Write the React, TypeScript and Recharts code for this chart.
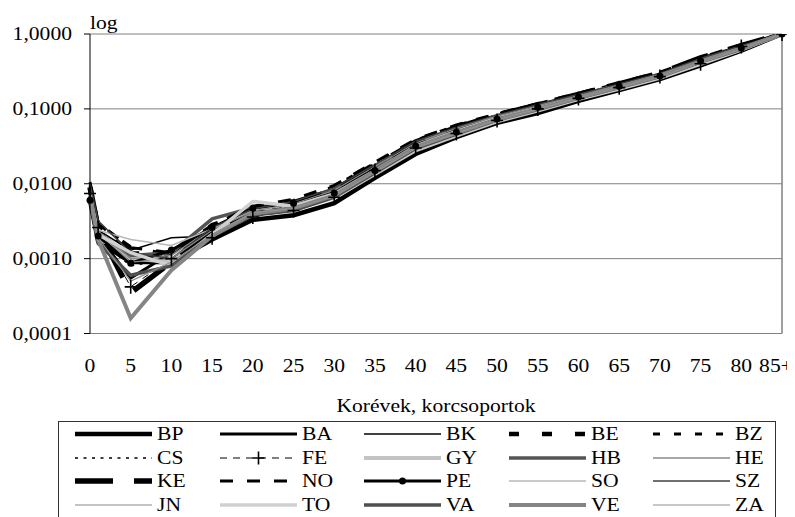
import React from 'react';
import { LineChart, Line, XAxis, YAxis, CartesianGrid, Legend, ReferenceLine } from 'recharts';

const ages = [0, 1, 5, 10, 15, 20, 25, 30, 35, 40, 45, 50, 55, 60, 65, 70, 75, 80, 85];
const xTicks = [0, 5, 10, 15, 20, 25, 30, 35, 40, 45, 50, 55, 60, 65, 70, 75, 80, 85];
const xTickLabels = ['0', '5', '10', '15', '20', '25', '30', '35', '40', '45', '50', '55', '60', '65', '70', '75', '80', '85+'];
const yTicks = [0.0001, 0.001, 0.01, 0.1, 1];
const yTickLabels = ['0,0001', '0,0010', '0,0100', '0,1000', '1,0000'];
const xAxisTitle = 'Korévek, korcsoportok';
const yAxisNote = 'log';

const seriesNames = ['BP', 'BA', 'BK', 'BE', 'BZ', 'CS', 'FE', 'GY', 'HB', 'HE', 'KE', 'NO', 'PE', 'SO', 'SZ', 'JN', 'TO', 'VA', 'VE', 'ZA'];

const BP = [0.0060, 0.0017, 0.0009, 0.0009, 0.0018, 0.0033, 0.0038, 0.0055, 0.0120, 0.0250, 0.0420, 0.0650, 0.0880, 0.1280, 0.1780, 0.2500, 0.3800, 0.6000, 1];
const BA = [0.0075, 0.0020, 0.00055, 0.0012, 0.0025, 0.0040, 0.0048, 0.0070, 0.0150, 0.0320, 0.0500, 0.0760, 0.1050, 0.1450, 0.2000, 0.2800, 0.4300, 0.6500, 1];
const BK = [0.0080, 0.0024, 0.0013, 0.0019, 0.0020, 0.0045, 0.0055, 0.0080, 0.0165, 0.0340, 0.0530, 0.0790, 0.1080, 0.1500, 0.2050, 0.2850, 0.4400, 0.6600, 1];
const BE = [0.0085, 0.0028, 0.0014, 0.0011, 0.0028, 0.0042, 0.0052, 0.0078, 0.0160, 0.0330, 0.0540, 0.0800, 0.1100, 0.1520, 0.2100, 0.2950, 0.4600, 0.6800, 1];
const BZ = [0.0095, 0.0030, 0.0012, 0.0012, 0.0027, 0.0046, 0.0060, 0.0092, 0.0190, 0.0380, 0.0600, 0.0850, 0.1170, 0.1600, 0.2200, 0.3000, 0.4700, 0.6900, 1];
const CS = [0.0065, 0.0018, 0.0008, 0.0010, 0.0022, 0.0040, 0.0046, 0.0068, 0.0145, 0.0310, 0.0490, 0.0740, 0.1020, 0.1420, 0.1980, 0.2750, 0.4200, 0.6400, 1];
const FE = [0.0074, 0.0026, 0.00042, 0.0010, 0.0019, 0.0036, 0.0044, 0.0066, 0.0150, 0.0300, 0.0470, 0.0700, 0.1000, 0.1380, 0.1920, 0.2700, 0.4000, 0.6800, 1];
const GY = [0.0070, 0.0019, 0.0010, 0.0009, 0.0022, 0.0042, 0.0045, 0.0065, 0.0135, 0.0280, 0.0440, 0.0680, 0.0950, 0.1350, 0.1850, 0.2600, 0.4000, 0.6200, 1];
const HB = [0.0080, 0.0022, 0.0011, 0.0012, 0.0034, 0.0048, 0.0055, 0.0085, 0.0170, 0.0350, 0.0550, 0.0810, 0.1100, 0.1520, 0.2080, 0.2900, 0.4500, 0.6700, 1];
const HE = [0.0078, 0.0023, 0.0010, 0.0011, 0.0026, 0.0043, 0.0058, 0.0088, 0.0180, 0.0360, 0.0560, 0.0820, 0.1120, 0.1550, 0.2150, 0.2950, 0.4600, 0.6800, 1];
const KE = [0.0090, 0.0025, 0.00035, 0.0009, 0.0024, 0.0044, 0.0056, 0.0082, 0.0175, 0.0360, 0.0560, 0.0830, 0.1130, 0.1560, 0.2150, 0.3000, 0.4800, 0.7000, 1];
const NO = [0.0105, 0.0030, 0.0014, 0.0012, 0.0028, 0.0050, 0.0062, 0.0095, 0.0195, 0.0390, 0.0610, 0.0860, 0.1180, 0.1620, 0.2250, 0.3100, 0.4800, 0.7200, 1];
const PE = [0.0060, 0.0020, 0.00087, 0.0013, 0.0026, 0.0047, 0.0055, 0.0075, 0.0150, 0.0320, 0.0490, 0.0730, 0.1050, 0.1440, 0.2000, 0.2750, 0.4400, 0.6500, 1];
const SO = [0.0072, 0.0024, 0.0018, 0.0015, 0.0025, 0.0044, 0.0052, 0.0076, 0.0155, 0.0330, 0.0520, 0.0780, 0.1060, 0.1480, 0.2050, 0.2850, 0.4400, 0.6600, 1];
const SZ = [0.0100, 0.0032, 0.0012, 0.0010, 0.0026, 0.0046, 0.0058, 0.0088, 0.0180, 0.0370, 0.0570, 0.0830, 0.1140, 0.1570, 0.2150, 0.2980, 0.4700, 0.7000, 1];
const JN = [0.0082, 0.0022, 0.0009, 0.0010, 0.0024, 0.0043, 0.0054, 0.0082, 0.0170, 0.0350, 0.0550, 0.0800, 0.1100, 0.1500, 0.2080, 0.2900, 0.4500, 0.6700, 1];
const TO = [0.0068, 0.0021, 0.0012, 0.0008, 0.0021, 0.0058, 0.0050, 0.0072, 0.0140, 0.0290, 0.0460, 0.0700, 0.0980, 0.1380, 0.1900, 0.2650, 0.4100, 0.6300, 1];
const VA = [0.0066, 0.0016, 0.0006, 0.0008, 0.0020, 0.0038, 0.0044, 0.0066, 0.0140, 0.0295, 0.0460, 0.0710, 0.0980, 0.1390, 0.1920, 0.2700, 0.4200, 0.6300, 1];
const VE = [0.0070, 0.0018, 0.00016, 0.0007, 0.0020, 0.0040, 0.0047, 0.0070, 0.0148, 0.0310, 0.0480, 0.0720, 0.1000, 0.1400, 0.1950, 0.2750, 0.4300, 0.6400, 1];
const ZA = [0.0064, 0.0019, 0.0005, 0.0009, 0.0021, 0.0041, 0.0047, 0.0069, 0.0142, 0.0300, 0.0470, 0.0720, 0.0990, 0.1400, 0.1950, 0.2700, 0.4150, 0.6300, 1];

const seriesValues: Record<string, number[]> = { BP, BA, BK, BE, BZ, CS, FE, GY, HB, HE, KE, NO, PE, SO, SZ, JN, TO, VA, VE, ZA };

type Style = { stroke: string; width: number; dash?: string; marker?: 'plus' | 'dot' };
const seriesStyles: Record<string, Style> = {
  BP: { stroke: '#000000', width: 4.5 },
  BA: { stroke: '#000000', width: 3 },
  BK: { stroke: '#000000', width: 1.5 },
  BE: { stroke: '#000000', width: 4.5, dash: '10 23' },
  BZ: { stroke: '#000000', width: 3, dash: '7 14' },
  CS: { stroke: '#000000', width: 1.5, dash: '3 5.5' },
  FE: { stroke: '#000000', width: 1, dash: '7 6', marker: 'plus' },
  GY: { stroke: '#c4c4c4', width: 4 },
  HB: { stroke: '#555555', width: 3.5 },
  HE: { stroke: '#8a8a8a', width: 1.5 },
  KE: { stroke: '#000000', width: 5.5, dash: '38 21' },
  NO: { stroke: '#000000', width: 3, dash: '13 14' },
  PE: { stroke: '#000000', width: 3, marker: 'dot' },
  SO: { stroke: '#b8b8b8', width: 1.5 },
  SZ: { stroke: '#404040', width: 1.5 },
  JN: { stroke: '#8a8a8a', width: 1.2 },
  TO: { stroke: '#d0d0d0', width: 3.5 },
  VA: { stroke: '#505050', width: 3.5 },
  VE: { stroke: '#858585', width: 4 },
  ZA: { stroke: '#909090', width: 1.2 },
};

const data = ages.map((age, i) => {
  const row: Record<string, number> = { age };
  seriesNames.forEach((n) => {
    row[n] = seriesValues[n][i];
  });
  return row;
});

const FONT = 'Liberation Serif, Tinos, DejaVu Serif, Times New Roman, serif';
const STRETCH = 1.2;

const XTick = (props: any) => {
  const { x, y, payload } = props;
  const idx = xTicks.indexOf(payload.value);
  const isLast = idx === xTicks.length - 1;
  return (
    <text
      transform={`translate(${isLast ? x - 6 : x},${y}) scale(${STRETCH},1)`}
      textAnchor="middle"
      dy={31}
      style={{ fontFamily: FONT, fontSize: 18 }}
      fill="#000"
    >
      {idx >= 0 ? xTickLabels[idx] : ''}
    </text>
  );
};

const YTick = (props: any) => {
  const { x, y, payload } = props;
  const idx = yTicks.findIndex((t) => Math.abs(t - payload.value) < t * 1e-6);
  return (
    <text transform={`translate(${x},${y}) scale(${STRETCH},1)`} textAnchor="end" dy={6} style={{ fontFamily: FONT, fontSize: 18 }} fill="#000">
      {idx >= 0 ? yTickLabels[idx] : ''}
    </text>
  );
};

const XTitle = (props: any) => {
  const vb = props.viewBox || {};
  return (
    <text
      transform={`translate(${vb.x + vb.width / 2},${vb.y + 78.5}) scale(${STRETCH},1)`}
      textAnchor="middle"
      style={{ fontFamily: FONT, fontSize: 18 }}
      fill="#000"
    >
      {xAxisTitle}
    </text>
  );
};

const YNote = (props: any) => {
  const vb = props.viewBox || {};
  return (
    <text
      transform={`translate(${vb.x + vb.width},${vb.y - 5}) scale(${STRETCH},1)`}
      textAnchor="start"
      style={{ fontFamily: FONT, fontSize: 18 }}
      fill="#000"
    >
      {yAxisNote}
    </text>
  );
};

const PlusDot = (props: any) => {
  const { cx, cy, index } = props;
  if (cx == null || cy == null) return <g key={index} />;
  return <path key={index} d={`M${cx - 6},${cy}h12M${cx},${cy - 7}v14`} stroke="#000" strokeWidth={1.6} fill="none" />;
};

const LegendSample = ({ s }: { s: Style }) => (
  <svg width={78} height={14} style={{ display: 'block' }}>
    <line x1={0} y1={7} x2={77} y2={7} stroke={s.stroke} strokeWidth={s.width} strokeDasharray={s.dash} />
    {s.marker === 'dot' && <circle cx={38.5} cy={7} r={3.5} fill="#000" />}
    {s.marker === 'plus' && <path d="M32.5,7h12M38.5,0.5v13" stroke="#000" strokeWidth={1.6} />}
  </svg>
);

const LegendBox = () => (
  <div
    style={{
      boxSizing: 'border-box',
      width: 718,
      height: 104,
      border: '1px solid #333',
      background: '#fff',
      position: 'relative',
      fontFamily: FONT,
      color: '#000',
    }}
  >
    {seriesNames.map((n, i) => {
      const col = i % 5;
      const row = Math.floor(i / 5);
      return (
        <div
          key={n}
          style={{
            position: 'absolute',
            left: 16 + col * 144.5,
            top: 12 + row * 23.5 - 10,
            height: 20,
            display: 'flex',
            alignItems: 'center',
          }}
        >
          <LegendSample s={seriesStyles[n]} />
          <span
            style={{
              marginLeft: 4,
              fontSize: 18,
              lineHeight: '20px',
              fontFamily: FONT,
              display: 'inline-block',
              transform: `scaleX(${STRETCH})`,
              transformOrigin: 'left center',
              whiteSpace: 'nowrap',
            }}
          >
            {n}
          </span>
        </div>
      );
    })}
  </div>
);

export default function App() {
  return (
    <div style={{ width: 787, height: 509, overflow: 'hidden', background: '#fff', fontFamily: FONT }}>
      <LineChart width={787} height={509} data={data} margin={{ top: 26, right: 13, left: 0, bottom: 0 }}>
        <CartesianGrid vertical={false} stroke="#808080" strokeWidth={1} />
        <XAxis
          dataKey="age"
          type="number"
          domain={[0, 85]}
          ticks={xTicks}
          interval={0}
          height={183.5}
          axisLine={{ stroke: '#808080', strokeWidth: 1 }}
          tickLine={false}
          tick={<XTick />}
          label={<XTitle />}
        />
        <YAxis
          type="number"
          scale="log"
          domain={[0.0001, 1]}
          ticks={yTicks}
          interval={0}
          allowDataOverflow
          width={82}
          axisLine={{ stroke: '#000', strokeWidth: 1 }}
          tickLine={{ stroke: '#000', strokeWidth: 1 }}
          tickSize={6}
          tickMargin={12}
          tick={<YTick />}
          label={<YNote />}
        />
        <ReferenceLine x={85} stroke="#808080" strokeWidth={1.5} />
        {seriesNames.map((n) => {
          const s = seriesStyles[n];
          const dot = s.marker === 'plus' ? <PlusDot /> : s.marker === 'dot' ? { r: 3.5, fill: '#000', stroke: '#000', strokeWidth: 0 } : false;
          return (
            <Line
              key={n}
              dataKey={n}
              name={n}
              type="linear"
              stroke={s.stroke}
              strokeWidth={s.width}
              strokeDasharray={s.dash}
              dot={dot as any}
              activeDot={false}
              isAnimationActive={false}
            />
          );
        })}
        <Legend
          layout="horizontal"
          verticalAlign="middle"
          align="center"
          content={<LegendBox />}
          wrapperStyle={{ top: 413, left: 50, width: 718, height: 104, bottom: 'auto', right: 'auto', margin: 0 }}
        />
      </LineChart>
    </div>
  );
}
